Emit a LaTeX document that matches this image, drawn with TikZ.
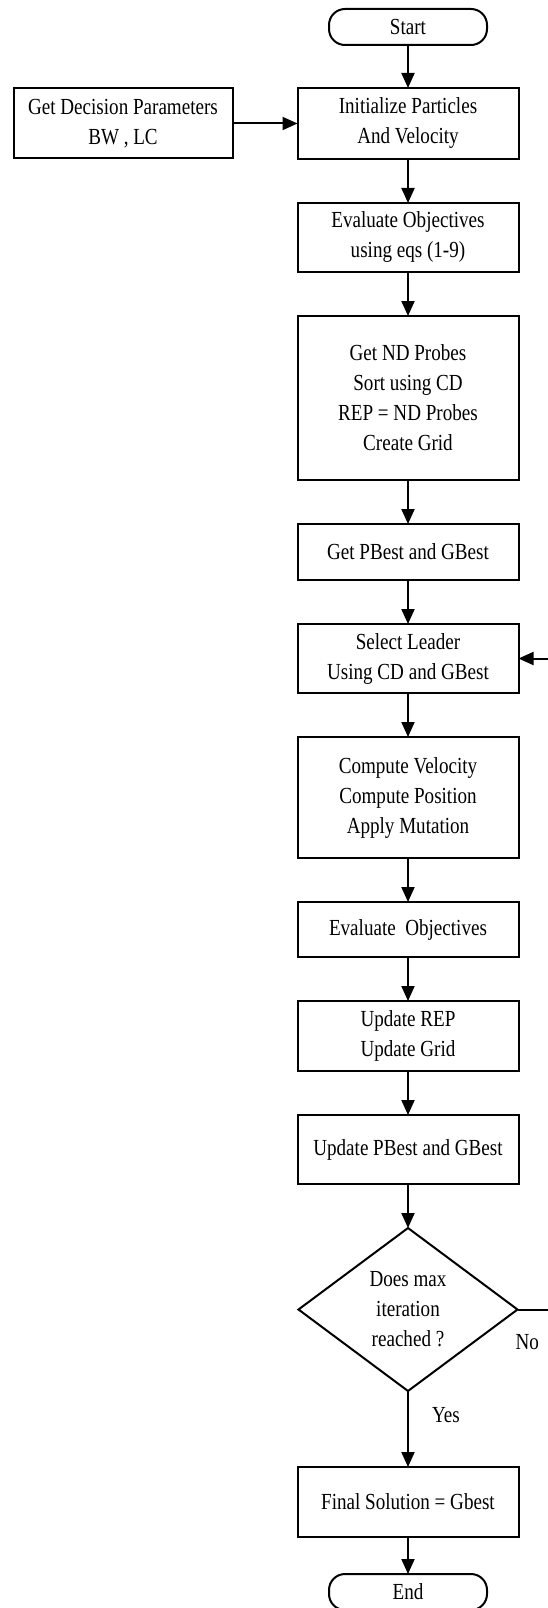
\documentclass[tikz,border=0pt]{standalone}
\usepackage{fontspec}
\setmainfont{Liberation Serif}[FakeStretch=0.83]
\usetikzlibrary{arrows.meta, positioning, shapes.geometric}
\tikzset{
    flowchart/.style={>={Triangle[length=15pt, width=13pt]}, line width=2pt, font=\fontsize{23}{30}\selectfont, node distance=44pt},
    process/.style={draw, minimum width=221pt, minimum height=70pt, align=center, inner sep=2pt, outer sep=0pt},
    terminal/.style={draw, rounded corners=16pt, minimum width=158pt, minimum height=36pt, outer sep=0pt},
    decision/.style={draw, diamond, minimum width=219pt, minimum height=163pt, align=center, inner sep=0pt, outer sep=0pt},
    % yes / no labels on the branches of the decision
    branchlabel/.style={inner sep=3pt},
}

\begin{document}
\begin{tikzpicture}[flowchart]
    \useasboundingbox (0,0) rectangle (548pt,-1608pt);

    \node[terminal] (start) at (408pt,-27pt) {Start};
    \node[process, below=43pt of start, minimum height=71pt] (init) {Initialize Particles\\And Velocity};
    \node[process, left=65pt of init, minimum width=219pt] (param) {Get Decision Parameters\\BW , LC};
    \node[process, below=of init, minimum height=69pt] (evalone) {Evaluate Objectives\\using eqs (1-9)};
    \node[process, below=of evalone, minimum height=164pt] (ndprobe) {Get ND Probes\\Sort using CD\\REP = ND Probes\\Create Grid};
    \node[process, below=of ndprobe, minimum height=56pt] (getbest) {Get PBest and GBest};
    \node[process, below=of getbest, minimum height=69pt] (leader) {Select Leader\\Using CD and GBest};
    \node[process, below=of leader, minimum height=121pt] (compute) {Compute Velocity\\Compute Position\\Apply Mutation};
    \node[process, below=of compute, minimum height=55pt] (evaltwo) {Evaluate~~Objectives};
    \node[process, below=of evaltwo] (update) {Update REP\\Update Grid};
    \node[process, below=of update, minimum height=69pt] (updbest) {Update PBest and GBest};
    \node[decision, below=of updbest] (maxit) {Does max\\iteration\\reached ?};
    \node[process, below=76pt of maxit] (final) {Final Solution = Gbest};
    \node[terminal, below=37pt of final] (stop) {End};

    \draw[->] (start) -- (init);
    \draw[->] (param) -- (init);
    \draw[->] (init) -- (evalone);
    \draw[->] (evalone) -- (ndprobe);
    \draw[->] (ndprobe) -- (getbest);
    \draw[->] (getbest) -- (leader);
    \draw[->] (leader) -- (compute);
    \draw[->] (compute) -- (evaltwo);
    \draw[->] (evaltwo) -- (update);
    \draw[->] (update) -- (updbest);
    \draw[->] (updbest) -- (maxit);
    \draw[->] (maxit) -- node[branchlabel, pos=0.32, right=20pt] {Yes} (final);
    \draw[->] (final) -- (stop);

    % loop back to the leader selection
    \draw[->] (maxit.east) -- node[branchlabel, pos=0, anchor=north west, xshift=-6pt, yshift=-21pt] {No} ++(50pt,0) |- (leader.east);
\end{tikzpicture}
\end{document}
